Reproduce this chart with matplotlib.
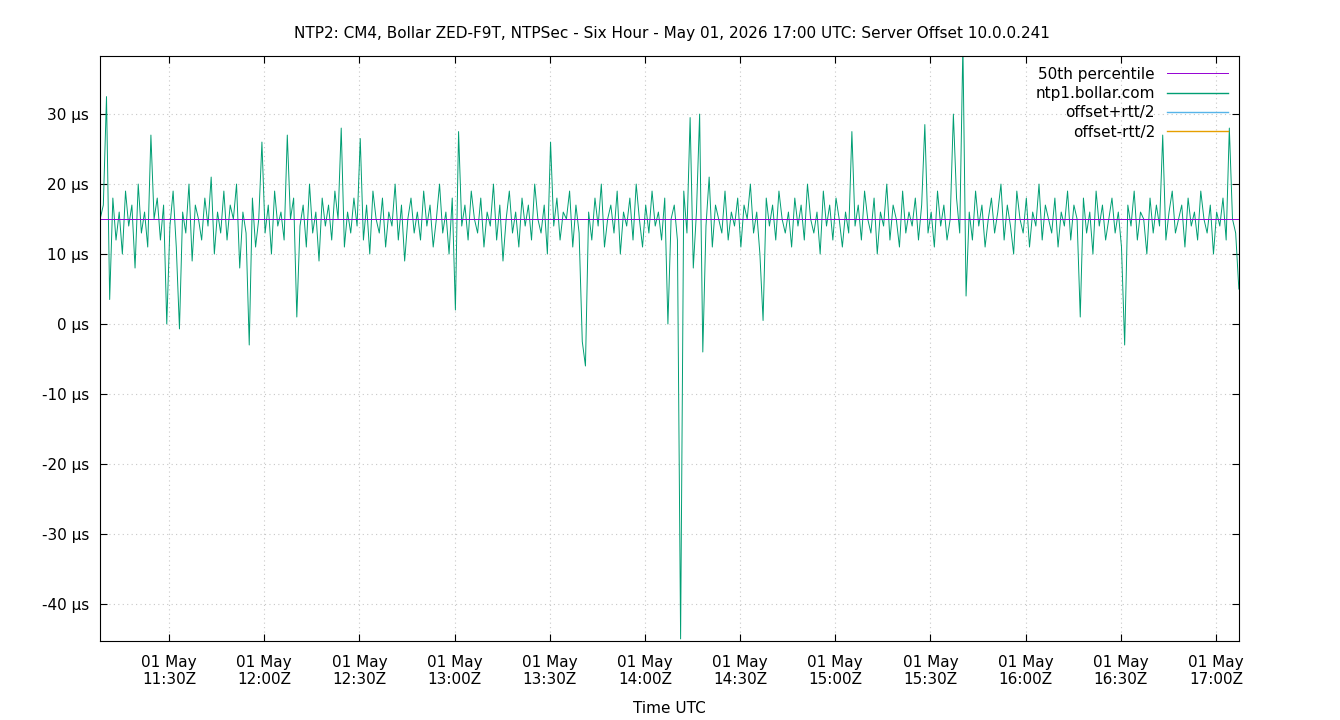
import numpy as np
import matplotlib
matplotlib.use("Agg")
import matplotlib.pyplot as plt
import matplotlib.dates as mdates
from datetime import datetime, timedelta

offsets = [
15,17,32.5,3.5,18,12,16,10,19,14,17,8,20,13,16,11,27,15,18,12,
17,0,14,19,11,-0.7,16,13,20,9,17,15,12,18,14,21,10,16,13,19,
12,17,15,20,8,16,13,-3,18,11,15,26,13,17,10,19,14,16,12,27,
15,18,1,14,17,11,20,13,16,9,18,14,17,12,19,15,28,11,16,13,
18,14,26.5,12,17,10,19,15,13,18,11,16,14,20,12,17,9,15,18,13,
16,12,19,14,17,11,15,20,13,16,10,18,2,27.5,14,17,12,19,15,13,
18,11,16,14,20,12,17,9,15,19,13,16,11,18,14,17,12,20,15,13,
17,10,26,14,18,12,16,15,19,11,17,13,-2.5,-6,16,12,18,14,20,11,
15,17,13,19,10,16,14,18,12,20,15,11,17,13,19,14,16,12,18,0,
15,17,12,-45,19,13,29.5,8,16,30,-4,14,21,11,17,15,13,19,12,16,
14,18,11,17,15,20,13,16,10,0.5,18,14,17,12,19,15,13,16,11,18,
14,17,12,20,15,13,16,10,19,14,17,12,18,15,11,16,13,27.5,14,17,
12,19,15,13,18,10,16,14,20,12,17,15,11,19,13,16,14,18,12,17,
28.5,13,16,11,19,14,17,12,15,30,18,13,40,4,16,12,19,14,17,11,
15,18,13,16,20,12,17,14,10,19,15,13,18,11,16,14,20,12,17,15,
13,18,11,16,14,19,12,17,15,1,18,13,16,10,19,14,17,12,15,18,
13,16,11,-3,17,14,19,12,16,15,10,18,13,17,14,27,12,16,19,13,
15,17,11,18,14,16,12,19,15,13,17,10,16,14,18,12,28,15,13,5]
median = 15.0
start = datetime(2026, 5, 1, 11, 8, 15)
times = [start + timedelta(minutes=i) for i in range(len(offsets))]

fig = plt.figure(figsize=(13.4, 7.2), dpi=100)
ax = fig.add_axes([100/1340, 79/720, 1139/1340, 585/720])
ax.plot(times, offsets, color="#009e73", lw=0.7, label="_nolegend_")
ax.axhline(median, color="#9400d3", lw=0.7, label="50th percentile")
ax.plot([], [], color="#009e73", lw=1, label="ntp1.bollar.com")
ax.plot([], [], color="#56b4e9", lw=1, label="offset+rtt/2")
ax.plot([], [], color="#e69f00", lw=1, label="offset-rtt/2")

ax.set_xlim(datetime(2026,5,1,11,8,12), datetime(2026,5,1,17,7,18))
ax.set_ylim(-45.3, 38.3)
ax.set_yticks(range(-40, 31, 10))
ax.set_yticklabels([f"{v} µs" for v in range(-40, 31, 10)])
ax.xaxis.set_major_locator(mdates.MinuteLocator(byminute=[0, 30]))
ax.xaxis.set_major_formatter(mdates.DateFormatter("%d %b\n%H:%MZ"))
ax.grid(True, color="#c8c8c8", ls=(0, (1, 3)), lw=0.8)
ax.tick_params(direction="in", labelsize=11, top=True, right=True, length=5)
ax.tick_params(axis="x", pad=10)
ax.tick_params(axis="y", pad=8)
for s in ax.spines.values():
    s.set_linewidth(0.8)
ax.set_xlabel("Time UTC", fontsize=11, labelpad=10)
ax.set_title("NTP2: CM4, Bollar ZED-F9T, NTPSec - Six Hour - May 01, 2026 17:00 UTC: Server Offset 10.0.0.241", fontsize=11, pad=13)
ax.title.set_position((0.502, 1.0))
ax.legend(loc="upper right", frameon=False, markerfirst=False, fontsize=11,
          handlelength=4, labelspacing=0.28, borderaxespad=0.3, handletextpad=0.8)
fig.savefig("out.png")
